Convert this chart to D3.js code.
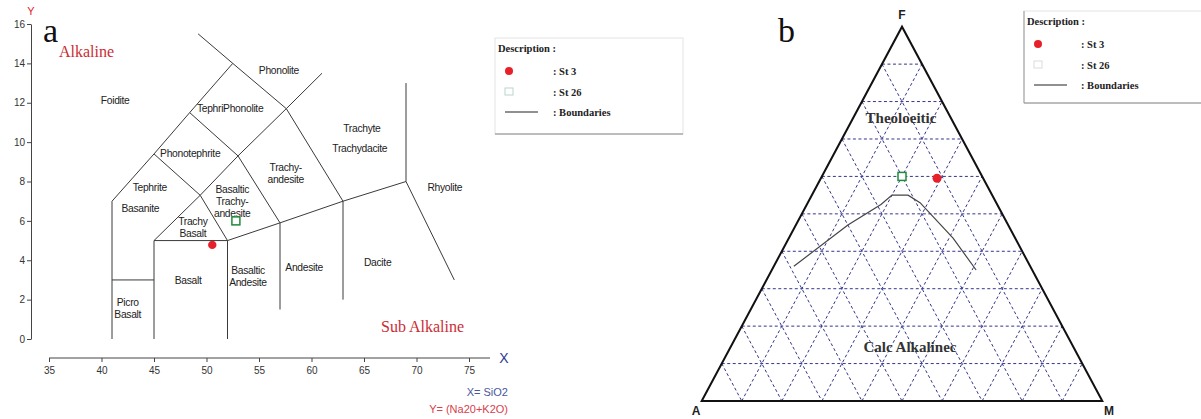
<!DOCTYPE html>
<html>
<head>
<meta charset="utf-8">
<script src="https://cdn.jsdelivr.net/npm/d3@7"></script>
<style>
  body { margin: 0; background: #fff; }
  .field { font-family: "Liberation Sans", Arial, sans-serif; font-size: 10.3px; letter-spacing: -0.3px; fill: #222; }
  .tick text { font-family: "Liberation Sans", Arial, sans-serif; font-size: 10px; fill: #333; }
  .serif { font-family: "Liberation Serif", "Times New Roman", serif; }
</style>
</head>
<body>
<div id="chart"></div>
<script>
// ---- panel a: TAS data (SiO2, Na2O+K2O) ----
const xTicks = [35, 40, 45, 50, 55, 60, 65, 70, 75];
const yTicks = [0, 2, 4, 6, 8, 10, 12, 14, 16];

const tasBoundaries = [
    [[41, 0], [41, 7]],
    [[41, 3], [45, 3]],
    [[45, 0], [45, 5]],
    [[45, 5], [52, 5]],
    [[52, 0], [52, 5]],
    [[52, 5], [57, 5.9]],
    [[57, 1.5], [57, 5.9]],
    [[57, 5.9], [63, 7]],
    [[63, 2], [63, 7]],
    [[63, 7], [69, 8]],
    [[69, 8], [73.6, 3]],
    [[69, 8], [69, 13]],
    [[45, 5], [49.4, 7.3], [52, 5]],
    [[41, 7], [45, 9.4], [48.4, 11.5], [52.5, 14]],
    [[45, 9.4], [49.4, 7.3]],
    [[48.4, 11.5], [53, 9.3], [57, 5.9]],
    [[49.4, 7.3], [53, 9.3], [57.6, 11.7], [61, 13.5]],
    [[49.2, 15.5], [52.5, 14], [57.6, 11.7], [63, 7]]
];

const tasFields = [
    { name: ["Foidite"], x: 41.3, y: 12.1 },
    { name: ["Phonolite"], x: 56.9, y: 13.65 },
    { name: ["TephriPhonolite"], x: 52.25, y: 11.7 },
    { name: ["Phonotephrite"], x: 48.45, y: 9.4 },
    { name: ["Tephrite"], x: 44.6, y: 7.7 },
    { name: ["Basanite"], x: 43.7, y: 6.65 },
    { name: ["Basaltic", "Trachy-", "andesite"], x: 52.45, y: 7.0 },
    { name: ["Trachy", "Basalt"], x: 48.7, y: 5.65 },
    { name: ["Basalt"], x: 48.25, y: 2.95 },
    { name: ["Basaltic", "Andesite"], x: 53.95, y: 3.15 },
    { name: ["Picro", "Basalt"], x: 42.5, y: 1.55 },
    { name: ["Andesite"], x: 59.3, y: 3.65 },
    { name: ["Dacite"], x: 66.3, y: 3.9 },
    { name: ["Rhyolite"], x: 72.7, y: 7.7 },
    { name: ["Trachy-", "andesite"], x: 57.55, y: 8.4 },
    { name: ["Trachyte"], x: 64.8, y: 10.7 },
    { name: ["Trachydacite"], x: 64.6, y: 9.7 }
];

const st3Tas = [50.55, 4.78];
const st26Tas = [52.8, 6.0];

// ---- panel b: AFM data (A, F, M in %) ----
const gridSteps = [10, 20, 30, 40, 50, 60, 70, 80, 90];
const afmBoundary = [
    [59, 36, 5], [40, 47, 13], [29, 52.5, 18.5], [25, 55, 20],
    [21, 55, 24], [19, 53, 28], [15.5, 43.5, 41], [14, 35, 51]
];
const st3Afm = [11.5, 59.5, 29];
const st26Afm = [20, 60, 20];

const W = 1201, H = 419;
const red = "#e8202a", green = "#1e8a3c", navy = "#34368a";

const svg = d3.select("#chart").append("svg")
    .attr("width", W).attr("height", H)
    .style("background", "#fff");

// ================= panel a =================
const x = d3.scaleLinear().domain([35, 75]).range([49, 469]);
const y = d3.scaleLinear().domain([0, 16]).range([339, 24]);

const yAxis = svg.append("g")
    .attr("transform", "translate(31,0)")
    .call(d3.axisLeft(y).tickValues(yTicks).tickSize(4).tickSizeOuter(0).tickPadding(2));
yAxis.select(".domain").attr("stroke", "#444");
yAxis.selectAll(".tick line").attr("stroke", "#444");

const xAxis = svg.append("g")
    .attr("transform", "translate(0,358)")
    .call(d3.axisBottom(x).tickValues(xTicks).tickSize(4).tickSizeOuter(0).tickPadding(5));
xAxis.select(".domain").remove();
xAxis.selectAll(".tick line").attr("stroke", "#444");
xAxis.append("line")
    .attr("x1", x(35)).attr("x2", x(77))
    .attr("stroke", "#444");

const line = d3.line().x(d => x(d[0])).y(d => y(d[1]));
svg.append("g").selectAll("path")
    .data(tasBoundaries)
    .join("path")
    .attr("d", line)
    .attr("fill", "none")
    .attr("stroke", "#3a3a3a")
    .attr("stroke-width", 1);

const fieldText = svg.append("g").selectAll("text")
    .data(tasFields)
    .join("text")
    .attr("class", "field")
    .attr("text-anchor", "middle")
    .attr("x", d => x(d.x))
    .attr("y", d => y(d.y) + 3.5 - (d.name.length - 1) * 6);
fieldText.selectAll("tspan")
    .data(d => d.name.map(n => ({ n, x: x(d.x) })))
    .join("tspan")
    .attr("x", d => d.x)
    .attr("dy", (d, i) => i === 0 ? 0 : 12)
    .text(d => d.n);

svg.append("circle")
    .attr("cx", x(st3Tas[0])).attr("cy", y(st3Tas[1])).attr("r", 4.2)
    .attr("fill", red);
svg.append("rect")
    .attr("x", x(st26Tas[0]) - 4).attr("y", y(st26Tas[1]) - 4)
    .attr("width", 8).attr("height", 8)
    .attr("fill", "#fff").attr("stroke", green).attr("stroke-width", 1.5);

// axis names and annotations
svg.append("text").text("Y")
    .attr("x", 31).attr("y", 15).attr("text-anchor", "middle")
    .attr("font-family", "Liberation Sans, Arial, sans-serif").attr("font-size", 11)
    .attr("fill", red);
svg.append("text").text("a").attr("class", "serif")
    .attr("x", 43).attr("y", 42).attr("font-size", 34).attr("fill", "#111");
svg.append("text").text("Alkaline").attr("class", "serif")
    .attr("x", 59).attr("y", 57).attr("font-size", 16).attr("fill", "#cc2b33");
svg.append("text").text("Sub Alkaline").attr("class", "serif")
    .attr("x", 381).attr("y", 332).attr("font-size", 16).attr("fill", "#cc2b33");
svg.append("text").text("X")
    .attr("x", 504).attr("y", 363).attr("text-anchor", "middle")
    .attr("font-family", "Liberation Sans, Arial, sans-serif").attr("font-size", 14)
    .attr("fill", "#2d3b8e");
svg.append("text").text("X= SiO2")
    .attr("x", 508).attr("y", 396).attr("text-anchor", "end")
    .attr("font-family", "Liberation Sans, Arial, sans-serif").attr("font-size", 11)
    .attr("fill", "#4a55a0");
svg.append("text").text("Y= (Na20+K2O)")
    .attr("x", 508).attr("y", 413).attr("text-anchor", "end")
    .attr("font-family", "Liberation Sans, Arial, sans-serif").attr("font-size", 11)
    .attr("fill", "#d8404a");

// legend box used by both panels
function legend(g, o) {
    g.append("rect")
        .attr("x", o.x).attr("y", o.y).attr("width", o.w).attr("height", o.h)
        .attr("fill", "#fff").attr("stroke", "#e4e4e4");
    g.append("line")
        .attr("x1", o.x).attr("x2", o.x + o.w).attr("y1", o.y + o.h).attr("y2", o.y + o.h)
        .attr("stroke", "#888");
    if (o.leftDark) {
        g.append("line")
            .attr("x1", o.x).attr("x2", o.x).attr("y1", o.y).attr("y2", o.y + o.h)
            .attr("stroke", "#999");
    }
    const t = (txt, tx, ty) => g.append("text").text(txt).attr("class", "serif")
        .attr("x", tx).attr("y", ty).attr("font-size", 10.5).attr("font-weight", "bold")
        .attr("fill", "#222");
    t("Description :", o.x + 3, o.y + 14);
    g.append("circle").attr("cx", o.sx).attr("cy", o.y + 33).attr("r", 4).attr("fill", red);
    t(": St 3", o.tx, o.y + 37);
    g.append("rect").attr("x", o.sx - 4).attr("y", o.y + 50).attr("width", 8).attr("height", 7)
        .attr("fill", "#fff").attr("stroke", o.sqStroke).attr("stroke-width", 1);
    t(": St 26", o.tx, o.y + 58);
    g.append("line").attr("x1", o.sx - 4).attr("x2", o.sx + 29)
        .attr("y1", o.y + 74).attr("y2", o.y + 74).attr("stroke", "#222").attr("stroke-width", 1.2);
    t(": Boundaries", o.tx, o.y + 78);
}
legend(svg.append("g"), { x: 495, y: 38, w: 188, h: 96, sx: 509, tx: 553, sqStroke: "#b9d6d0" });

// ================= panel b =================
const fy = d3.scaleLinear().domain([0, 100]).range([401, 26.7]);
const mx = d3.scaleLinear().domain([0, 100]).range([701.7, 1102.3]);
const tern = d => [mx(d[2] + d[1] / 2), fy(d[1])];
const tline = d3.line().x(d => tern(d)[0]).y(d => tern(d)[1]);

// grid: constant F, constant A, constant M
const gridLines = [];
gridSteps.forEach(k => {
    gridLines.push([[100 - k, k, 0], [0, k, 100 - k]]);
    gridLines.push([[k, 100 - k, 0], [k, 0, 100 - k]]);
    gridLines.push([[100 - k, 0, k], [0, 100 - k, k]]);
});
svg.append("g").selectAll("path")
    .data(gridLines)
    .join("path")
    .attr("d", tline)
    .attr("fill", "none")
    .attr("stroke", navy)
    .attr("stroke-width", 1)
    .attr("stroke-dasharray", "3,2.5");

svg.append("path")
    .attr("d", tline([[100, 0, 0], [0, 100, 0], [0, 0, 100]]) + "Z")
    .attr("fill", "none").attr("stroke", "#111").attr("stroke-width", 2)
    .attr("stroke-linejoin", "miter");

svg.append("path")
    .attr("d", tline(afmBoundary))
    .attr("fill", "none").attr("stroke", "#444").attr("stroke-width", 1.2);

svg.append("text").text("Theoloeitic").attr("class", "serif")
    .attr("x", 901).attr("y", 123).attr("text-anchor", "middle")
    .attr("font-size", 15).attr("font-weight", "bold").attr("fill", "#333");
svg.append("text").text("Calc Alkalinec").attr("class", "serif")
    .attr("x", 910).attr("y", 352).attr("text-anchor", "middle")
    .attr("font-size", 15).attr("font-weight", "bold").attr("fill", "#333");

const p3 = tern(st3Afm), p26 = tern(st26Afm);
svg.append("circle").attr("cx", p3[0]).attr("cy", p3[1]).attr("r", 4.5).attr("fill", red);
svg.append("rect").attr("x", p26[0] - 4).attr("y", p26[1] - 4)
    .attr("width", 8).attr("height", 8)
    .attr("fill", "#fff").attr("stroke", green).attr("stroke-width", 1.5);

const vlab = (txt, tx, ty) => svg.append("text").text(txt)
    .attr("x", tx).attr("y", ty).attr("text-anchor", "middle")
    .attr("font-family", "Liberation Sans, Arial, sans-serif").attr("font-size", 12)
    .attr("font-weight", "bold").attr("fill", "#222");
vlab("F", tern([0, 100, 0])[0], 19);
vlab("A", 696, 415);
vlab("M", 1109, 415);

svg.append("text").text("b").attr("class", "serif")
    .attr("x", 778).attr("y", 42).attr("font-size", 34).attr("fill", "#111");

legend(svg.append("g"), { x: 1024, y: 11, w: 190, h: 92, sx: 1038, tx: 1081, sqStroke: "#dcdcdc", leftDark: true });
</script>
</body>
</html>
